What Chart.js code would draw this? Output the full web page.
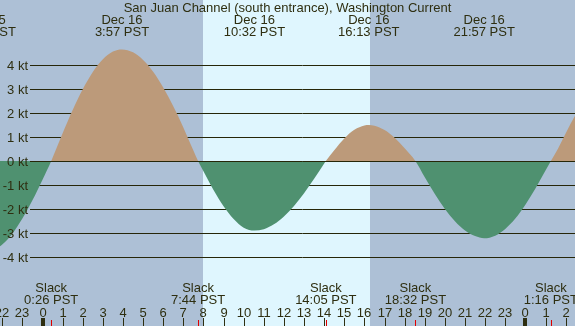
<!DOCTYPE html>
<html>
<head>
<meta charset="utf-8">
<script src="https://cdn.jsdelivr.net/npm/chart.js@4.4.1/dist/chart.umd.min.js"></script>
<style>
html,body{margin:0;padding:0;background:#adc0d6;}
canvas{display:block;}
</style>
</head>
<body>
<canvas id="c" width="575" height="326"></canvas>
<script>
// ---- data (hours relative to Dec 16 00:00 PST, current in knots) ----
const hours = [-2.5,-2,-1.5,-1,-0.5,0,0.433,0.5,1,1.5,2,2.5,3,3.5,3.95,4.5,5,5.5,6,6.5,7,7.5,7.733,
  8,8.5,9,9.5,10,10.533,11,11.5,12,12.5,13,13.5,14,14.083,14.5,15,15.5,16,16.217,16.5,17,17.5,18,18.533,
  19,19.5,20,20.5,21,21.5,21.95,22.5,23,23.5,24,24.5,25,25.267,25.5,26,26.5,27];
const knots = [-3.74,-3.48,-3.03,-2.40,-1.64,-0.78,0,0.14,1.16,2.13,2.99,3.71,4.24,4.56,4.65,4.53,4.21,3.72,3.06,2.28,1.40,0.44,0,
  -0.43,-1.21,-1.89,-2.42,-2.78,-2.90,-2.84,-2.64,-2.31,-1.87,-1.34,-0.74,-0.10,0,0.45,0.94,1.30,1.48,1.50,1.47,1.29,0.97,0.53,0,
  -0.68,-1.38,-2.00,-2.51,-2.90,-3.13,-3.22,-3.11,-2.83,-2.40,-1.82,-1.15,-0.40,0,0.33,1.15,1.93,2.60];
const yTicks = [4,3,2,1,0,-1,-2,-3,-4];
const hourTicks = [-2,-1,0,1,2,3,4,5,6,7,8,9,10,11,12,13,14,15,16,17,18,19,20,21,22,23,24,25,26];
const eventHours = [-2.85,3.95,10.533,16.217,21.95];
const eventDates = ["Dec 15","Dec 16","Dec 16","Dec 16","Dec 16"];
const eventTimes = ["21:07 PST","3:57 PST","10:32 PST","16:13 PST","21:57 PST"];
const slackHours = [0.433,7.733,14.083,18.533,25.267];
const slackTimes = ["0:26 PST","7:44 PST","14:05 PST","18:32 PST","1:16 PST"];
const sunrise = 7.98, sunset = 16.28;
const title = "San Juan Channel (south entrance), Washington Current";

const NIGHT = "#adc0d6", DAY = "#dff6fe", TAN = "#bc9a7a", GREEN = "#4f9170";
const INK = "#2e2e10", LINE = "#262608";
const FONT = "13px 'Liberation Sans', Arial, sans-serif";

const decor = {
  id: 'decor',
  beforeDatasetsDraw(chart) {
    const ctx = chart.ctx, xs = chart.scales.x, ys = chart.scales.y;
    const W = chart.width, H = chart.height;
    ctx.save();
    ctx.fillStyle = NIGHT; ctx.fillRect(0, 0, W, H);
    const x1 = Math.round(xs.getPixelForValue(sunrise)), x2 = Math.round(xs.getPixelForValue(sunset));
    ctx.fillStyle = DAY; ctx.fillRect(x1, 0, x2 - x1, H);
    ctx.strokeStyle = LINE; ctx.lineWidth = 1;
    yTicks.forEach(v => {
      if (v === 0) return;
      const y = Math.round(ys.getPixelForValue(v)) + 0.5;
      ctx.beginPath(); ctx.moveTo(30, y); ctx.lineTo(W, y); ctx.stroke();
    });
    ctx.restore();
  },
  afterDatasetsDraw(chart) {
    const ctx = chart.ctx, xs = chart.scales.x, ys = chart.scales.y;
    const W = chart.width, H = chart.height;
    ctx.save();
    ctx.strokeStyle = LINE; ctx.lineWidth = 1;
    const y0 = Math.round(ys.getPixelForValue(0)) + 0.5;
    ctx.beginPath(); ctx.moveTo(30, y0); ctx.lineTo(W, y0); ctx.stroke();
    ctx.font = FONT; ctx.fillStyle = INK; ctx.textBaseline = 'alphabetic';
    // y labels
    ctx.textAlign = 'right';
    yTicks.forEach(v => {
      const y = Math.round(ys.getPixelForValue(v));
      ctx.fillText(v + " kt", 28, y + 5);
    });
    // title
    ctx.textAlign = 'center';
    ctx.fillText(title, W / 2, 12);
    // events
    eventHours.forEach((h, i) => {
      const x = xs.getPixelForValue(h);
      ctx.fillText(eventDates[i], x, 24);
      ctx.fillText(eventTimes[i], x, 36);
    });
    // slack
    slackHours.forEach((h, i) => {
      const x = xs.getPixelForValue(h);
      ctx.fillText("Slack", x, 292);
      ctx.fillText(slackTimes[i], x, 304);
    });
    // hour labels and ticks
    hourTicks.forEach(h => {
      const x = Math.round(xs.getPixelForValue(h));
      const lab = ((h % 24) + 24) % 24;
      ctx.fillText(String(lab), x, 317);
      ctx.fillStyle = INK;
      if (lab === 0) ctx.fillRect(x - 2, 318, 4, H - 318);
      else ctx.fillRect(x, 318, 1, H - 318);
    });
    ctx.fillStyle = "#e00000";
    slackHours.forEach(h => {
      const x = Math.round(xs.getPixelForValue(h));
      ctx.fillRect(x, 320, 1, H - 320);
    });
    ctx.restore();
  }
};

const PXH = 20.12, X0 = 42.5, Y0 = 161, PXK = 24;
new Chart(document.getElementById('c'), {
  type: 'line',
  data: {
    datasets: [{
      data: hours.map((h, i) => ({x: h, y: knots[i]})),
      borderWidth: 0,
      borderColor: 'rgba(0,0,0,0)',
      pointRadius: 0,
      cubicInterpolationMode: 'monotone',
      fill: {target: 'origin', above: TAN, below: GREEN}
    }]
  },
  options: {
    responsive: false,
    animation: false,
    events: [],
    layout: {padding: 0},
    plugins: {legend: {display: false}, title: {display: false}, tooltip: {enabled: false}},
    scales: {
      x: {type: 'linear', display: false, min: -X0 / PXH, max: (575 - X0) / PXH},
      y: {type: 'linear', display: false, min: -(326 - Y0) / PXK, max: Y0 / PXK}
    }
  },
  plugins: [decor]
});
</script>
</body>
</html>
